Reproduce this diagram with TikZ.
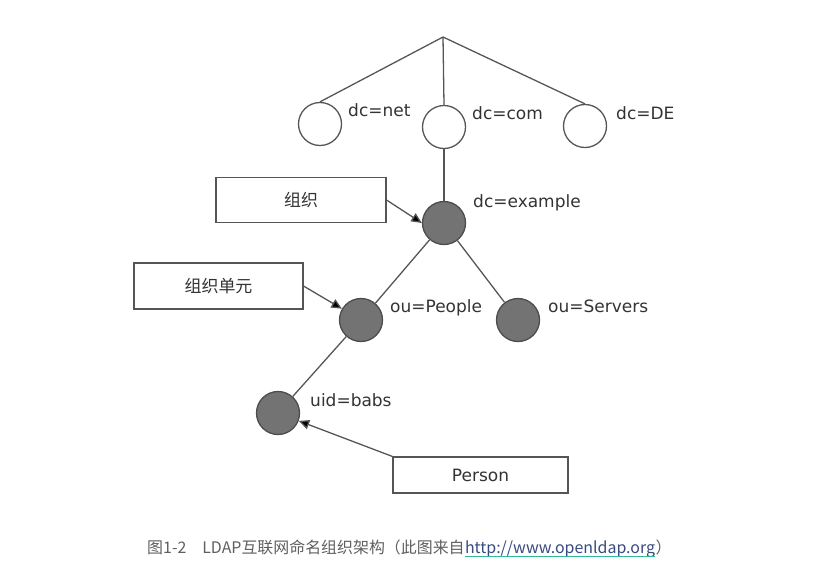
\documentclass[tikz,border=0pt]{standalone}
\usepackage{fontspec}
\setmainfont{DejaVu Sans}
\newfontfamily\cjk{Noto Sans CJK SC}
\usepackage{tikz}
\usetikzlibrary{positioning,calc}
\usetikzlibrary{arrows.meta}
\definecolor{LineGray}{RGB}{85,85,85}
\definecolor{DotGray}{RGB}{115,115,115}
\definecolor{CapGray}{RGB}{95,95,95}
\definecolor{LinkBlue}{RGB}{55,75,130}
\definecolor{LinkLine}{RGB}{50,185,150}
\tikzset{
  entry/.style={circle,draw=LineGray,line width=1.1pt,fill=white,minimum size=1.29cm,inner sep=0pt},
  leaf/.style={entry,fill=DotGray,draw=black!70},
  branch/.style={draw=LineGray,line width=1.1pt},
  pointer/.style={draw=LineGray,line width=1.1pt,-{Triangle[length=9pt,width=8pt,fill=black]}},
  tag/.style={draw=LineGray,line width=0.9pt,fill=white,inner sep=0pt,text=black!80,
    font=\fontsize{14.5}{17}\selectfont},
  lbl/.style={anchor=base west,inner sep=0pt,text=black!80,font=\fontsize{14.5}{17}\selectfont},
  captext/.style={anchor=base west,inner sep=0pt,text=CapGray,font=\cjk\fontsize{13.6}{16}\selectfont},
}

\begin{document}
\begin{tikzpicture}[x=0.03cm,y=-0.03cm]
\useasboundingbox (0,0) rectangle (824,580);
\coordinate (top) at (443,37);
\node[entry] (net) at (320,124) {};
\node[entry] (com) at (444,127) {};
\node[entry] (de) at (585,126) {};
\node[leaf] (ex) at (444,223) {};
\node[leaf] (people) at (361,320) {};
\node[leaf] (servers) at (518,320) {};
\node[leaf] (babs) at (278,413) {};
\node[lbl] (lnet) at (348,116) {dc=net};
\node[lbl] (lcom) at (472,119) {dc=com};
\node[lbl] (lde) at (616,119) {dc=DE};
\node[lbl] (lex) at (473,207) {dc=example};
\node[lbl] (lpeople) at (390,312) {ou=People};
\node[lbl] (lservers) at (548,312) {ou=Servers};
\node[lbl] (lbabs) at (310,406) {uid=babs};
\node[tag,minimum width=5.1cm,minimum height=1.35cm] (org) at (301,200) {\cjk 组织};
\node[tag,minimum width=5.07cm,minimum height=1.38cm] (unit) at (218.5,286) {\cjk 组织单元};
\node[tag,minimum width=5.25cm,minimum height=1.08cm] (person) at (480.5,475) {Person};
\draw[branch] (top) -- (net.north);
\draw[branch] (top) -- (com.north);
\draw[branch] (top) -- (de.north);
\draw[branch] (com) -- (ex);
\draw[branch] (ex) -- (people);
\draw[branch] (ex) -- (servers);
\draw[branch] (people) -- (babs);
\draw[pointer] (org.east) -- (ex.west);
\draw[pointer] (unit.east) -- (people);
\draw[pointer] (person.north west) -- (babs);
% caption below the tree
\node[captext] (cap1) at (147,553) {图1-2\quad LDAP互联网命名组织架构（此图来自};
\node[captext,text=LinkBlue] (url) at (cap1.base east) {http://www.openldap.org};
\node[captext] (cap2) at (url.base east) {）};
\draw[LinkLine,line width=0.8pt] ($(url.base west)+(0,3.5)$) -- ($(url.base east)+(0,3.5)$);
\end{tikzpicture}
\end{document}
